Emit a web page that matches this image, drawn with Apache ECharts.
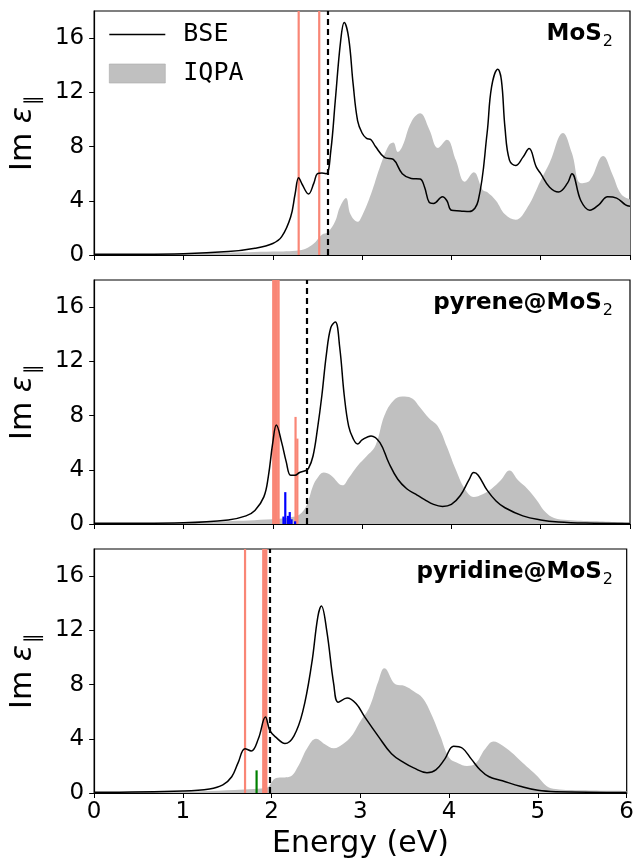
<!DOCTYPE html>
<html>
<head>
<meta charset="utf-8">
<script src="https://cdn.jsdelivr.net/npm/echarts@6/dist/echarts.min.js"></script>
<style>
  html, body { margin: 0; padding: 0; background: #fff; }
  #chart { width: 637px; height: 864px; }
</style>
</head>
<body>
<div id="chart"></div>
<script>
// energy (eV) / Im eps pairs
const bseMoS2 = [[0,0.05],[1,0.1],[1.5,0.25],[1.8,0.5],[2.0,0.85],[2.1,1.35],[2.2,2.8],[2.25,4.5],[2.29,5.7],[2.33,5.2],[2.4,4.5],[2.46,5.3],[2.5,6.0],[2.55,6.05],[2.6,6.0],[2.65,7.7],[2.7,11.4],[2.76,15.8],[2.8,17.15],[2.85,16],[2.9,12.6],[2.95,9.9],[3.0,9.0],[3.05,8.6],[3.1,8.5],[3.15,8.0],[3.25,7.2],[3.35,7.05],[3.45,6.0],[3.55,5.65],[3.65,5.6],[3.7,5.0],[3.75,3.9],[3.8,3.8],[3.9,4.3],[3.95,4.0],[4.0,3.3],[4.1,3.25],[4.2,3.2],[4.3,4.0],[4.4,9.0],[4.45,12.4],[4.52,13.7],[4.56,12.9],[4.6,9.4],[4.65,7.0],[4.72,6.6],[4.8,7.2],[4.87,7.85],[4.95,6.5],[5.0,6.0],[5.1,5.0],[5.2,4.65],[5.3,5.3],[5.35,6.0],[5.45,4.0],[5.55,3.3],[5.65,3.7],[5.75,4.3],[5.85,4.2],[5.95,3.7],[6.0,3.6]];
const iqpaMoS2 = [[0,0],[1.0,0.1],[2.0,0.25],[2.3,0.35],[2.45,0.8],[2.55,1.5],[2.62,1.7],[2.7,2.5],[2.75,3.5],[2.82,4.2],[2.87,3.0],[2.95,2.45],[3.0,2.9],[3.1,4.5],[3.2,6.5],[3.3,8.1],[3.35,8.3],[3.4,7.6],[3.45,8.0],[3.55,9.8],[3.65,10.45],[3.75,9.3],[3.85,7.9],[3.95,8.5],[4.05,7.0],[4.15,5.4],[4.25,6.1],[4.35,4.8],[4.4,4.65],[4.5,4.0],[4.6,3.0],[4.72,2.6],[4.85,3.5],[5.0,5.5],[5.1,6.8],[5.25,9.0],[5.35,7.5],[5.45,5.3],[5.55,5.5],[5.7,7.3],[5.8,6.0],[5.9,4.5],[6.0,4.1]];
const bsePyrene = [[0,0.05],[1.0,0.1],[1.5,0.3],[1.7,0.6],[1.8,1.0],[1.9,2.0],[1.95,3.5],[2.0,6.0],[2.04,7.3],[2.1,6.0],[2.15,4.6],[2.2,3.6],[2.25,3.6],[2.3,3.8],[2.37,3.95],[2.4,4.1],[2.45,5.0],[2.5,7.0],[2.55,9.5],[2.6,12.5],[2.65,14.5],[2.7,14.9],[2.75,13.0],[2.8,9.5],[2.85,7.2],[2.9,6.3],[2.95,5.9],[3.0,6.2],[3.1,6.5],[3.2,6.0],[3.3,4.5],[3.4,3.3],[3.5,2.6],[3.6,2.2],[3.7,1.8],[3.8,1.45],[3.9,1.3],[4.0,1.45],[4.1,2.1],[4.2,3.3],[4.25,3.8],[4.3,3.6],[4.4,2.5],[4.5,1.7],[4.6,1.2],[4.8,0.6],[5.0,0.3],[5.2,0.15],[5.5,0.07],[6.0,0.04]];
const iqpaPyrene = [[0,0],[1.0,0.1],[2.0,0.35],[2.2,0.5],[2.3,0.7],[2.38,1.4],[2.45,2.8],[2.5,3.4],[2.57,3.8],[2.65,3.6],[2.78,2.85],[2.85,3.4],[2.95,4.3],[3.05,5.0],[3.15,5.8],[3.25,8.0],[3.35,9.1],[3.45,9.4],[3.55,9.3],[3.65,8.6],[3.75,7.8],[3.85,7.2],[3.95,5.7],[4.05,4.0],[4.15,2.6],[4.25,2.0],[4.35,2.2],[4.45,2.6],[4.55,3.2],[4.65,3.95],[4.75,3.2],[4.85,2.6],[4.95,1.8],[5.05,0.9],[5.15,0.45],[5.3,0.3],[5.6,0.2],[6.0,0.1]];
const bsePyridine = [[0,0.05],[1.0,0.15],[1.3,0.3],[1.45,0.6],[1.55,1.2],[1.62,2.2],[1.7,3.27],[1.77,3.1],[1.85,4.0],[1.93,5.6],[1.98,4.6],[2.05,4.1],[2.15,3.65],[2.25,4.2],[2.35,6.0],[2.45,9.5],[2.52,13.0],[2.56,13.8],[2.62,12.0],[2.7,8.0],[2.75,6.7],[2.85,7.0],[2.95,6.6],[3.05,5.6],[3.2,4.2],[3.35,2.9],[3.5,2.2],[3.6,1.85],[3.75,1.5],[3.85,1.7],[3.95,2.5],[4.05,3.45],[4.15,3.3],[4.25,2.5],[4.35,1.7],[4.45,1.2],[4.6,0.9],[4.8,0.5],[5.0,0.2],[5.2,0.1],[6.0,0.03]];
const iqpaPyridine = [[0,0.05],[1.0,0.1],[1.8,0.3],[1.95,0.4],[2.0,0.8],[2.05,1.1],[2.2,1.2],[2.3,2.0],[2.4,3.3],[2.5,4.0],[2.6,3.6],[2.7,3.3],[2.8,3.6],[2.9,4.2],[3.0,5.3],[3.1,6.3],[3.2,8.2],[3.27,9.2],[3.4,8.0],[3.5,7.9],[3.6,7.5],[3.7,7.0],[3.8,5.8],[3.9,4.2],[4.0,2.6],[4.1,2.2],[4.2,2.0],[4.3,2.2],[4.4,3.2],[4.5,3.8],[4.6,3.5],[4.7,3.0],[4.8,2.4],[4.9,1.8],[5.0,1.2],[5.1,0.5],[5.2,0.3],[5.5,0.2],[6.0,0.15]];

// oscillator sticks [energy, height]
const redMoS2 = [[2.29,18],[2.52,18]];
const redPyrene = [[2.005,18],[2.025,18],[2.045,18],[2.065,18],[2.255,7.9],[2.275,6.3]];
const bluePyrene = [[2.12,0.55],[2.14,2.35],[2.17,0.6],[2.19,0.88],[2.21,0.35],[2.25,0.2]];
const redPyridine = [[1.70,18],[1.905,18],[1.925,18],[1.94,18]];
const greenPyridine = [[1.83,1.67]];

const gapMoS2 = 2.61, gapPyrene = 2.38, gapPyridine = 1.98;
const panelNames = ['MoS', 'pyrene@MoS', 'pyridine@MoS'];
const yTicks = [0, 4, 8, 12, 16];

const chart = echarts.init(document.getElementById('chart'));
const tops = [11, 280, 549];
const font = 'DejaVu Sans';

function sticks(data, color, idx) {
  return {
    type: 'custom', xAxisIndex: idx, yAxisIndex: idx, z: 2, data: data, silent: true,
    renderItem: function (params, api) {
      const p0 = api.coord([api.value(0), 0]);
      const p1 = api.coord([api.value(0), api.value(1)]);
      return { type: 'line', shape: { x1: p0[0], y1: p0[1], x2: p1[0], y2: p1[1] },
        style: { stroke: color, lineWidth: 2.2 } };
    }
  };
}

const panels = [
  { bse: bseMoS2, iqpa: iqpaMoS2, gap: gapMoS2, st: [[redMoS2, '#f98676']] },
  { bse: bsePyrene, iqpa: iqpaPyrene, gap: gapPyrene, st: [[redPyrene, '#f98676'], [bluePyrene, '#0000ff']] },
  { bse: bsePyridine, iqpa: iqpaPyridine, gap: gapPyridine, st: [[redPyridine, '#f98676'], [greenPyridine, '#008000']] }
];

const series = [];
panels.forEach(function (p, i) {
  series.push({
    name: 'IQPA', type: 'line', xAxisIndex: i, yAxisIndex: i, data: p.iqpa, z: 1,
    symbol: 'none', smooth: 0.4,
    lineStyle: { width: 0, color: '#c0c0c0' }, itemStyle: { color: '#c0c0c0' },
    areaStyle: { color: '#c0c0c0', opacity: 1 }
  });
  p.st.forEach(function (s) { series.push(sticks(s[0], s[1], i)); });
  series.push({
    name: 'BSE', type: 'line', xAxisIndex: i, yAxisIndex: i, data: p.bse, z: 3,
    symbol: 'none', smooth: 0.4,
    lineStyle: { width: 1.5, color: '#000' }, itemStyle: { color: '#000' },
    markLine: {
      silent: true, symbol: 'none', label: { show: false },
      lineStyle: { color: '#000', type: [6, 4], width: 2.2 },
      data: [{ xAxis: p.gap }]
    }
  });
});

chart.setOption({
  animation: false,
  title: panelNames.map(function (n, i) {
    return {
      text: '{b|' + n + '}{s|2}', right: 19, top: tops[i] + 7,
      textStyle: { rich: {
        b: { fontFamily: font, fontWeight: 'bold', fontSize: 23, color: '#000', verticalAlign: 'bottom' },
        s: { fontFamily: font, fontWeight: 'normal', fontSize: 16, color: '#000', verticalAlign: 'bottom', padding: [0, 0, -4, 1] }
      } }
    };
  }),
  legend: {
    orient: 'vertical', left: 104, top: 17, itemWidth: 56, itemHeight: 19, itemGap: 14,
    textStyle: { fontFamily: 'DejaVu Sans Mono', fontSize: 25, color: '#000', padding: [0, 0, 0, 13] },
    data: [
      { name: 'BSE', icon: 'path://M0,0L100,0L100,2.4L0,2.4Z', itemStyle: { color: '#000' } },
      { name: 'IQPA', icon: 'rect', itemStyle: { color: '#c0c0c0', borderColor: '#aaa', borderWidth: 0.6 } }
    ]
  },
  grid: tops.map(function (t) {
    return { left: 94, right: 7, top: t, height: 244, show: true, borderColor: '#000', borderWidth: 1.2, backgroundColor: 'transparent' };
  }),
  xAxis: tops.map(function (t, i) {
    return {
      type: 'value', gridIndex: i, min: 0, max: 6, interval: 1,
      axisLine: { show: true, lineStyle: { color: '#000', width: 1.2 } },
      axisTick: { show: true, length: 5, lineStyle: { color: '#000' } },
      axisLabel: { show: i === 2, fontFamily: font, fontSize: 23, color: '#000', margin: 8 },
      splitLine: { show: false },
      name: i === 2 ? 'Energy (eV)' : '', nameLocation: 'middle', nameGap: 36,
      nameTextStyle: { fontFamily: font, fontSize: 30, color: '#000' }
    };
  }),
  yAxis: tops.map(function (t, i) {
    return {
      type: 'value', gridIndex: i, min: 0, max: 18,
      axisLine: { show: true, lineStyle: { color: '#000', width: 1.2 } },
      axisTick: { show: true, length: 5, customValues: yTicks, lineStyle: { color: '#000' } },
      axisLabel: { fontFamily: font, fontSize: 23, color: '#000', margin: 10, customValues: yTicks },
      splitLine: { show: false },
      name: '{a|Im }{e|ε}{s|∥}', nameLocation: 'middle', nameGap: 54,
      nameTextStyle: { rich: {
        a: { fontFamily: font, fontSize: 30, color: '#000', verticalAlign: 'bottom' },
        e: { fontFamily: font, fontStyle: 'italic', fontSize: 30, color: '#000', verticalAlign: 'bottom' },
        s: { fontFamily: font, fontSize: 20, color: '#000', verticalAlign: 'bottom', padding: [0, 0, -6, 2] }
      } }
    };
  }),
  series: series
});
</script>
</body>
</html>
